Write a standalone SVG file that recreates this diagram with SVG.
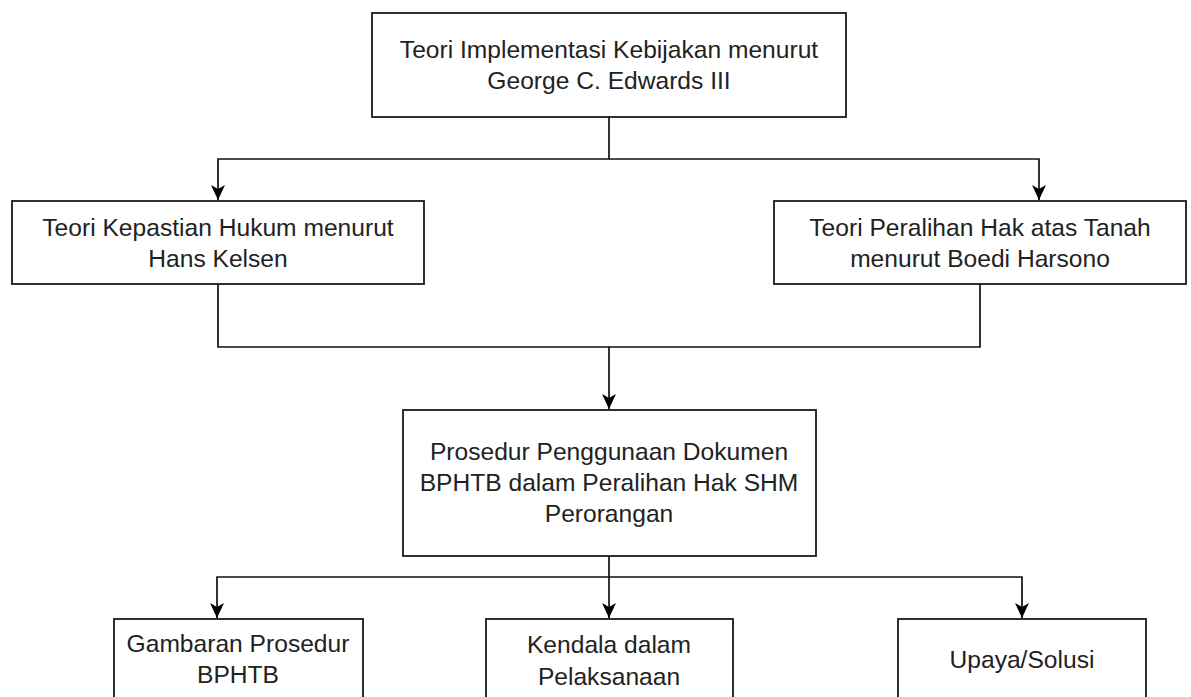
<svg xmlns="http://www.w3.org/2000/svg" width="1191" height="697" viewBox="0 0 1191 697">
<style>
.box{fill:#fff;stroke:#1a1a1a;stroke-width:1.8}
.lbl{font-family:"Liberation Sans",Arial,sans-serif;font-size:24.6px;fill:#222;text-anchor:middle}
.con{fill:none;stroke:#111;stroke-width:1.7}
</style>
<defs>
<marker id="arr" markerUnits="userSpaceOnUse" markerWidth="18" markerHeight="18" viewBox="0 0 18 18" refX="16" refY="9" orient="auto">
<path d="M1,2 L16,9 L1,16 L5,9 z" fill="#000"/>
</marker>
</defs>
<rect width="1191" height="697" fill="#fff"/>
<g id="connectors">
<path class="con" d="M609,117 V159 H218 V200" marker-end="url(#arr)"/>
<path class="con" d="M609,159 H1039 V200" marker-end="url(#arr)"/>
<path class="con" d="M218,284 V347 H609 V409" marker-end="url(#arr)"/>
<path class="con" d="M980,284 V347 H609"/>
<path class="con" d="M609,556 V577 H217 V618" marker-end="url(#arr)"/>
<path class="con" d="M609,577 V618" marker-end="url(#arr)"/>
<path class="con" d="M609,577 H1022 V618" marker-end="url(#arr)"/>
</g>
<g id="n1">
<rect class="box" x="372" y="13" width="474" height="104"/>
<text class="lbl" x="609" y="58">Teori Implementasi Kebijakan menurut</text>
<text class="lbl" x="609" y="89">George C. Edwards III</text>
</g>
<g id="n2">
<rect class="box" x="12" y="201" width="412" height="83"/>
<text class="lbl" x="218" y="236">Teori Kepastian Hukum menurut</text>
<text class="lbl" x="218" y="267">Hans Kelsen</text>
</g>
<g id="n3">
<rect class="box" x="774" y="201" width="412" height="83"/>
<text class="lbl" x="980" y="236">Teori Peralihan Hak atas Tanah</text>
<text class="lbl" x="980" y="267">menurut Boedi Harsono</text>
</g>
<g id="n4">
<rect class="box" x="403" y="410" width="413" height="146"/>
<text class="lbl" x="609" y="460">Prosedur Penggunaan Dokumen</text>
<text class="lbl" x="609" y="491">BPHTB dalam Peralihan Hak SHM</text>
<text class="lbl" x="609" y="522">Perorangan</text>
</g>
<g id="n5">
<rect class="box" x="114" y="619" width="249" height="84"/>
<text class="lbl" x="238" y="652">Gambaran Prosedur</text>
<text class="lbl" x="238" y="683">BPHTB</text>
</g>
<g id="n6">
<rect class="box" x="486" y="619" width="247" height="84"/>
<text class="lbl" x="609" y="653">Kendala dalam</text>
<text class="lbl" x="609" y="685">Pelaksanaan</text>
</g>
<g id="n7">
<rect class="box" x="898" y="619" width="248" height="84"/>
<text class="lbl" x="1022" y="668">Upaya/Solusi</text>
</g>
</svg>
